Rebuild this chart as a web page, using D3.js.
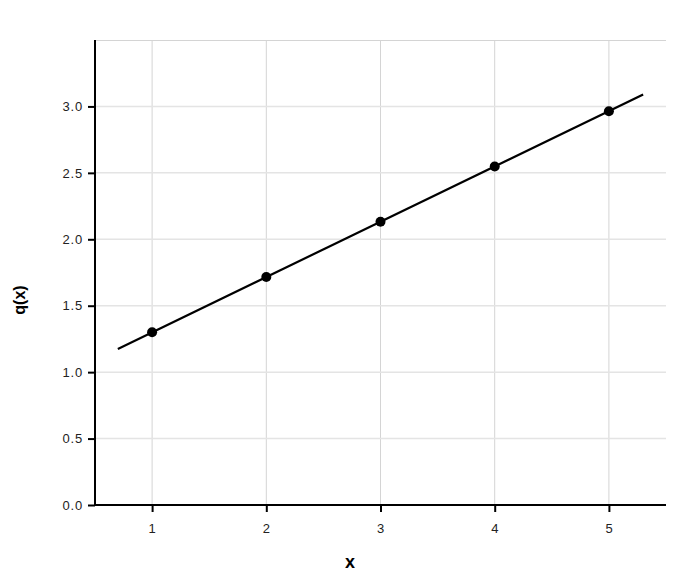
<!DOCTYPE html>
<html>
<head>
<meta charset="utf-8">
<script src="https://cdn.jsdelivr.net/npm/d3@7"></script>
<style>
  body { margin: 0; background: #fff; }
  svg text { font-family: "Liberation Sans", Arial, sans-serif; }
</style>
</head>
<body>
<svg id="chart" width="700" height="580"></svg>
<script>
// observed points
var pointX = [1, 2, 3, 4, 5];
var pointY = [1.30, 1.716, 2.132, 2.548, 2.964];
// fitted line ends
var fitX = [0.7, 5.3];
var fitY = [1.175, 3.089];
// ticks
var xTicks = [1, 2, 3, 4, 5];
var yTicks = [0, 0.5, 1.0, 1.5, 2.0, 2.5, 3.0];

var margin = {top: 40, right: 34, bottom: 75, left: 95},
    width = 700 - margin.left - margin.right,
    height = 580 - margin.top - margin.bottom;

var svg = d3.select("#chart");
var g = svg.append("g").attr("transform", "translate(" + margin.left + "," + margin.top + ")");

var x = d3.scaleLinear().domain([0.5, 5.5]).range([0, width]);
var y = d3.scaleLinear().domain([0, 3.5]).range([height, 0]);

// grid
g.selectAll(".vgrid").data(xTicks).enter().append("line")
    .attr("x1", function(d) { return x(d); })
    .attr("x2", function(d) { return x(d); })
    .attr("y1", 0).attr("y2", height)
    .attr("stroke", "#d4d4d4").attr("stroke-width", 1);

g.selectAll(".hgrid").data(yTicks.slice(1)).enter().append("line")
    .attr("x1", 0).attr("x2", width)
    .attr("y1", function(d) { return y(d); })
    .attr("y2", function(d) { return y(d); })
    .attr("stroke", "#e4e4e4").attr("stroke-width", 1.5);

// top border
g.append("line")
    .attr("x1", 0).attr("x2", width)
    .attr("y1", 0.5).attr("y2", 0.5)
    .attr("stroke", "#d4d4d4").attr("stroke-width", 1);

// axes
var xAxis = g.append("g")
    .attr("transform", "translate(0," + height + ")")
    .call(d3.axisBottom(x).tickValues(xTicks).tickFormat(d3.format("d")).tickSizeOuter(0).tickSize(7).tickPadding(12));

var yAxis = g.append("g")
    .call(d3.axisLeft(y).tickValues(yTicks).tickFormat(d3.format(".1f")).tickSizeOuter(0).tickSize(7).tickPadding(5));

[xAxis, yAxis].forEach(function(a) {
  a.select(".domain").attr("stroke", "#000").attr("stroke-width", 2);
  a.selectAll(".tick line").attr("stroke", "#000").attr("stroke-width", 2);
  a.selectAll(".tick text").attr("fill", "#222").style("font-size", "13px").style("letter-spacing", "0.8px");
});
xAxis.select(".domain").attr("d", "M-1,0H" + width);
yAxis.select(".domain").attr("d", "M0," + (height + 1) + "V0");

// fitted line
var line = d3.line()
    .x(function(d) { return x(d[0]); })
    .y(function(d) { return y(d[1]); });

g.append("path")
    .datum(d3.zip(fitX, fitY))
    .attr("fill", "none")
    .attr("stroke", "#000")
    .attr("stroke-width", 2.2)
    .attr("d", line);

// points
g.selectAll(".pt").data(d3.zip(pointX, pointY)).enter().append("circle")
    .attr("cx", function(d) { return x(d[0]); })
    .attr("cy", function(d) { return y(d[1]); })
    .attr("r", 5)
    .attr("fill", "#000");

// axis titles
svg.append("text")
    .attr("x", 350)
    .attr("y", 568)
    .attr("text-anchor", "middle")
    .style("font-size", "18px")
    .style("font-weight", "bold")
    .text("x");

svg.append("text")
    .attr("transform", "translate(25,300) rotate(-90)")
    .attr("text-anchor", "middle")
    .style("font-size", "16px")
    .style("font-weight", "bold")
    .text("q(x)");
</script>
</body>
</html>
